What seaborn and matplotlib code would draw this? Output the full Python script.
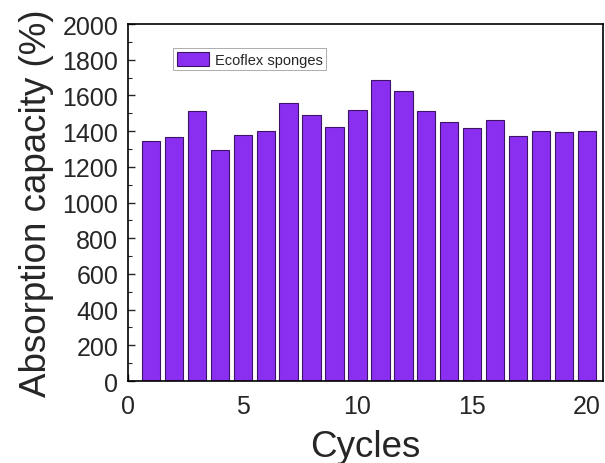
import numpy as np
import pandas as pd
import matplotlib
matplotlib.use("Agg")
import matplotlib.pyplot as plt
import seaborn as sns
from matplotlib.ticker import MultipleLocator

# dados
ciclos = list(range(1, 21))
capacidade = [1346, 1369, 1511, 1294, 1378, 1399, 1556, 1492, 1421, 1518,
              1685, 1626, 1511, 1451, 1415, 1462, 1374, 1402, 1397, 1401]
rotulo = "Ecoflex sponges"

sns.set_style("ticks")
plt.rcParams['font.family'] = ['Liberation Sans', 'DejaVu Sans']

df = pd.DataFrame({"Cycles": ciclos, "Capacidade": capacidade})

fig = plt.figure(figsize=(6.05, 4.64), dpi=100)
ax = fig.add_axes([0.2116, 0.1767, 0.785, 0.7693])

sns.barplot(data=df, x="Cycles", y="Capacidade", native_scale=True,
            color="#8a2ff0", saturation=1, width=0.8,
            edgecolor="#3b1466", linewidth=0.8, label=rotulo, ax=ax)

ax.set_xlim(0, 20.7)
ax.set_ylim(0, 2000)
ax.xaxis.set_major_locator(MultipleLocator(5))
ax.yaxis.set_major_locator(MultipleLocator(200))
ax.yaxis.set_minor_locator(MultipleLocator(100))
ax.tick_params(axis='both', which='major', direction='in', length=5, width=1,
               labelsize=18)
ax.tick_params(axis='y', which='minor', direction='in', length=3, width=0.8)
ax.tick_params(axis='x', which='major', pad=9)
ax.tick_params(axis='y', which='major', pad=7)

for s in ax.spines.values():
    s.set_linewidth(1.2)
    s.set_color("black")

ax.set_xlabel("Cycles", fontsize=26.5, labelpad=8)
ax.set_ylabel("Absorption capacity (%)", fontsize=26.5, labelpad=6)

leg = ax.legend(loc="upper left", bbox_to_anchor=(0.095, 0.933), fontsize=10.5,
                frameon=True, fancybox=False, borderpad=0.25, borderaxespad=0,
                handlelength=2.2, handleheight=1.1, handletextpad=0.4)
leg.get_frame().set_edgecolor("#888888")
leg.get_frame().set_linewidth(0.6)

plt.savefig("out.png", dpi=100)
